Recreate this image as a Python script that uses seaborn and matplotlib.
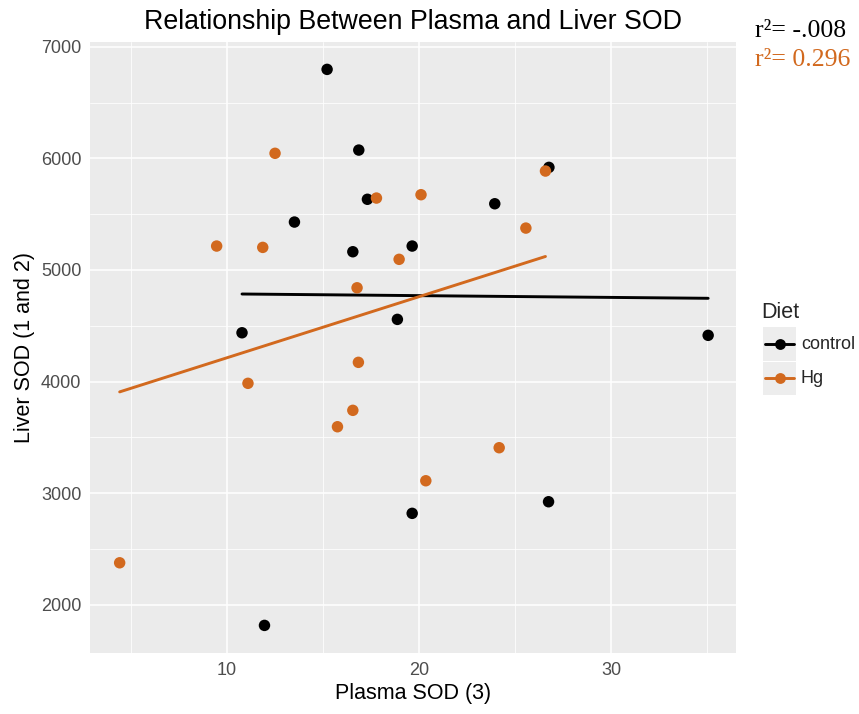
import matplotlib
matplotlib.use('Agg')
import matplotlib.pyplot as plt
import seaborn as sns
import pandas as pd
from matplotlib.lines import Line2D
from matplotlib.patches import Rectangle
from matplotlib.ticker import MultipleLocator

# ---- data ----
control_x = [15.21, 16.86, 17.31, 13.51, 16.55, 19.64, 18.87, 10.78, 26.76, 23.94, 35.05, 19.64, 11.95, 26.74]
control_y = [6797, 6074, 5633, 5429, 5163, 5214, 4557, 4437, 5919, 5593, 4414, 2819, 1815, 2923]
hg_x = [12.50, 17.78, 20.10, 9.46, 11.86, 18.96, 16.77, 26.58, 25.56, 11.09, 16.84, 16.55, 15.75, 4.41, 20.35, 24.17]
hg_y = [6045, 5644, 5674, 5214, 5202, 5095, 4840, 5886, 5375, 3984, 4172, 3742, 3595, 2376, 3111, 3407]
diets = ["control", "Hg"]
r2_labels = ["r\u00b2= -.008", "r\u00b2= 0.296"]
x_ticks = [10, 20, 30]
y_ticks = [2000, 3000, 4000, 5000, 6000, 7000]

colors = {"control": "#000000", "Hg": "#D2691E"}

df = pd.DataFrame({
    "Plasma": control_x + hg_x,
    "Liver": control_y + hg_y,
    "Diet": ["control"] * len(control_x) + ["Hg"] * len(hg_x),
})

sns.set_style("white")
plt.rcParams["font.family"] = ["Liberation Sans", "DejaVu Sans"]

W, H = 859, 714
fig = plt.figure(figsize=(W / 100, H / 100), dpi=100)
L, R, T, B = 89.7, 736.0, 41.7, 653.3
ax = fig.add_axes([L / W, 1 - B / H, (R - L) / W, (B - T) / H])
ax.set_facecolor("#EBEBEB")

for d in diets:
    sub = df[df.Diet == d]
    sns.regplot(data=sub, x="Plasma", y="Liver", scatter=False, ci=None, ax=ax,
                line_kws=dict(color=colors[d], lw=2.1, zorder=3))
sns.scatterplot(data=df, x="Plasma", y="Liver", hue="Diet", palette=colors, s=68,
                edgecolor="none", linewidth=0, legend=False, ax=ax, zorder=4)

ax.set_xlim(2.85, 36.5)
ax.set_ylim(1565, 7045)
ax.set_xticks(x_ticks)
ax.set_yticks(y_ticks)
ax.xaxis.set_minor_locator(MultipleLocator(5))
ax.yaxis.set_minor_locator(MultipleLocator(500))
ax.grid(True, which="major", color="white", lw=1.1, zorder=0)
ax.grid(True, which="minor", color="white", lw=0.55, zorder=0)
ax.set_axisbelow(True)
for s in ax.spines.values():
    s.set_visible(False)
ax.tick_params(which="major", length=4, width=1.0, color="#333333",
               labelcolor="#4D4D4D", labelsize=13, pad=2)
ax.tick_params(which="minor", length=0)

ax.set_xlabel("Plasma SOD (3)", fontsize=15.5, color="black", labelpad=3)
ax.set_ylabel("Liver SOD (1 and 2)", fontsize=15.5, color="black", labelpad=4)
ax.set_title("Relationship Between Plasma and Liver SOD", fontsize=19.3, pad=9, color="black")

# legend (drawn manually to mimic ggplot keys)
def fy(y):
    return 1 - y / H

fig.text(761 / W, fy(312.5), "Diet", fontsize=15.5, va="center", ha="left")
keys = [(327.3, 361.0), (361.7, 395.0)]
for (y0, y1), d in zip(keys, diets):
    fig.add_artist(Rectangle((763 / W, fy(y1)), (796 - 763) / W, (y1 - y0) / H,
                             transform=fig.transFigure, facecolor="#EDEDED", edgecolor="none"))
    yc = (y0 + y1) / 2
    fig.add_artist(Line2D([765 / W, 794 / W], [fy(yc), fy(yc)], transform=fig.transFigure,
                          color=colors[d], lw=2.1, marker=None))
    fig.add_artist(Line2D([779.5 / W], [fy(yc)], transform=fig.transFigure,
                          color=colors[d], marker="o", markersize=7.8, markeredgewidth=0, lw=0))
    fig.text(801 / W, fy(yc), d, fontsize=13, va="center", ha="left")

# r^2 annotations
for lab, d, yb in zip(r2_labels, diets, [37, 66]):
    fig.text(755 / W, fy(yb), lab, fontsize=18.5, va="baseline", ha="left",
             color=colors[d], family=["Liberation Serif", "DejaVu Serif"])

fig.savefig("out.png", dpi=100)
